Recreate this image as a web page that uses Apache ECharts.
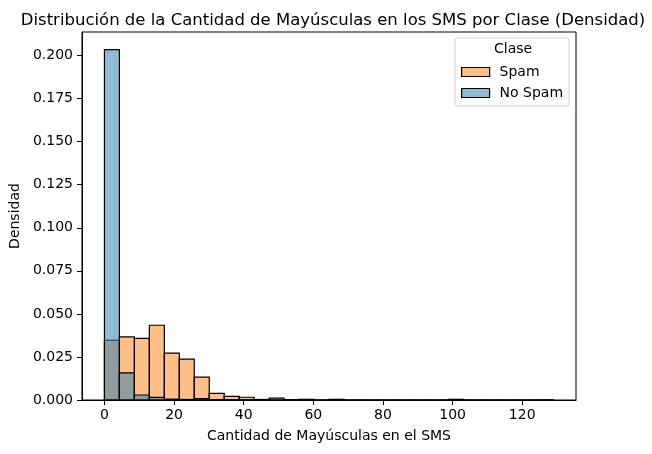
<!DOCTYPE html>
<html>
<head>
<meta charset="utf-8">
<script src="https://cdn.jsdelivr.net/npm/echarts@6/dist/echarts.min.js"></script>
<style>html,body{margin:0;padding:0;background:#fff}#c{width:652px;height:454px}</style>
</head>
<body>
<div id="c"></div>
<script>
// Bin layout (30 bins of width 4.3 from 0 to 129)
const binStart = 0;
const binWidth = 4.3;
// Density per bin
const spamDensity = [0.0347, 0.0366, 0.0358, 0.0434, 0.0272, 0.0237, 0.0133, 0.0039, 0.0021, 0.0016,
                     0.0003, 0.0011, 0.0002, 0.0004, 0, 0.0004, 0, 0, 0, 0,
                     0, 0, 0, 0.0004, 0, 0, 0, 0, 0, 0];
const noSpamDensity = [0.2035, 0.0158, 0.0029, 0.0015, 0.0005, 0.0003, 0.0008, 0.0002, 0.0001, 0.0001,
                       0.0002, 0, 0, 0.0001, 0, 0.0001, 0, 0, 0, 0,
                       0, 0, 0, 0, 0, 0, 0, 0, 0, 0.0001];
const seriesNames = ['Spam', 'No Spam'];
const xTicks = [0, 20, 40, 60, 80, 100, 120];
const yTicks = [0, 0.025, 0.05, 0.075, 0.1, 0.125, 0.15, 0.175, 0.2];

const font = 'DejaVu Sans';
const colSpam = 'rgba(255,127,14,0.5)';
const colNoSpam = 'rgba(31,119,180,0.5)';

function toBins(vals) {
  return vals.map((v, i) => [binStart + i * binWidth, binStart + (i + 1) * binWidth, v]);
}
function makeRender(color) {
  return function (params, api) {
    const p0 = api.coord([api.value(0), 0]);
    const p1 = api.coord([api.value(1), api.value(2)]);
    return {
      type: 'rect',
      shape: { x: p0[0], y: p1[1], width: p1[0] - p0[0], height: p0[1] - p1[1] },
      style: { fill: color, stroke: '#000', lineWidth: 1.2 }
    };
  };
}

const chart = echarts.init(document.getElementById('c'), null, { renderer: 'canvas' });
chart.setOption({
  animation: false,
  backgroundColor: '#fff',
  title: {
    text: 'Distribución de la Cantidad de Mayúsculas en los SMS por Clase (Densidad)',
    left: 328, top: 7, textAlign: 'center',
    textStyle: { fontFamily: font, fontSize: 16.5, fontWeight: 'normal', color: '#000' }
  },
  grid: { left: 80, right: 76, top: 32, bottom: 54, show: true, borderColor: '#000', borderWidth: 1, backgroundColor: 'transparent' },
  legend: {
    left: 455, top: 38,
    orient: 'vertical',
    data: [
      { name: seriesNames[0], icon: 'rect', itemStyle: { color: colSpam, borderColor: '#000', borderWidth: 1.2 } },
      { name: seriesNames[1], icon: 'rect', itemStyle: { color: colNoSpam, borderColor: '#000', borderWidth: 1.2 } }
    ],
    itemWidth: 28, itemHeight: 9, itemGap: 7,
    padding: [27, 6, 6, 6],
    borderColor: '#d0d0d0', borderWidth: 1, borderRadius: 3,
    backgroundColor: 'rgba(255,255,255,0.8)',
    textStyle: { fontFamily: font, fontSize: 14, color: '#000', lineHeight: 14, padding: [0, 0, 0, 5] }
  },
  graphic: [{
    type: 'text', left: 494, top: 42, z: 100,
    style: { text: 'Clase', fontFamily: font, fontSize: 14, fill: '#000' }
  }],
  xAxis: {
    type: 'value', min: -6.45, max: 135.45,
    name: 'Cantidad de Mayúsculas en el SMS', nameLocation: 'middle', nameGap: 29,
    nameTextStyle: { fontFamily: font, fontSize: 14, color: '#000' },
    axisLine: { show: true, onZero: false, lineStyle: { color: '#000', width: 1 } },
    axisTick: { show: true, length: 5, lineStyle: { color: '#000' }, customValues: xTicks },
    axisLabel: { fontFamily: font, fontSize: 14, color: '#000', margin: 8, customValues: xTicks },
    splitLine: { show: false }
  },
  yAxis: {
    type: 'value', min: 0, max: 0.2137,
    name: 'Densidad', nameLocation: 'middle', nameGap: 53,
    nameTextStyle: { fontFamily: font, fontSize: 14, color: '#000' },
    axisLine: { show: true, onZero: false, lineStyle: { color: '#000', width: 1 } },
    axisTick: { show: true, length: 5, lineStyle: { color: '#000' }, customValues: yTicks },
    axisLabel: { fontFamily: font, fontSize: 14, color: '#000', margin: 9, customValues: yTicks,
                 formatter: v => v.toFixed(3) },
    splitLine: { show: false }
  },
  series: [
    { name: seriesNames[0], type: 'custom', renderItem: makeRender(colSpam), data: toBins(spamDensity), encode: { x: [0, 1], y: 2 }, z: 2 },
    { name: seriesNames[1], type: 'custom', renderItem: makeRender(colNoSpam), data: toBins(noSpamDensity), encode: { x: [0, 1], y: 2 }, z: 3 }
  ]
});
</script>
</body>
</html>
